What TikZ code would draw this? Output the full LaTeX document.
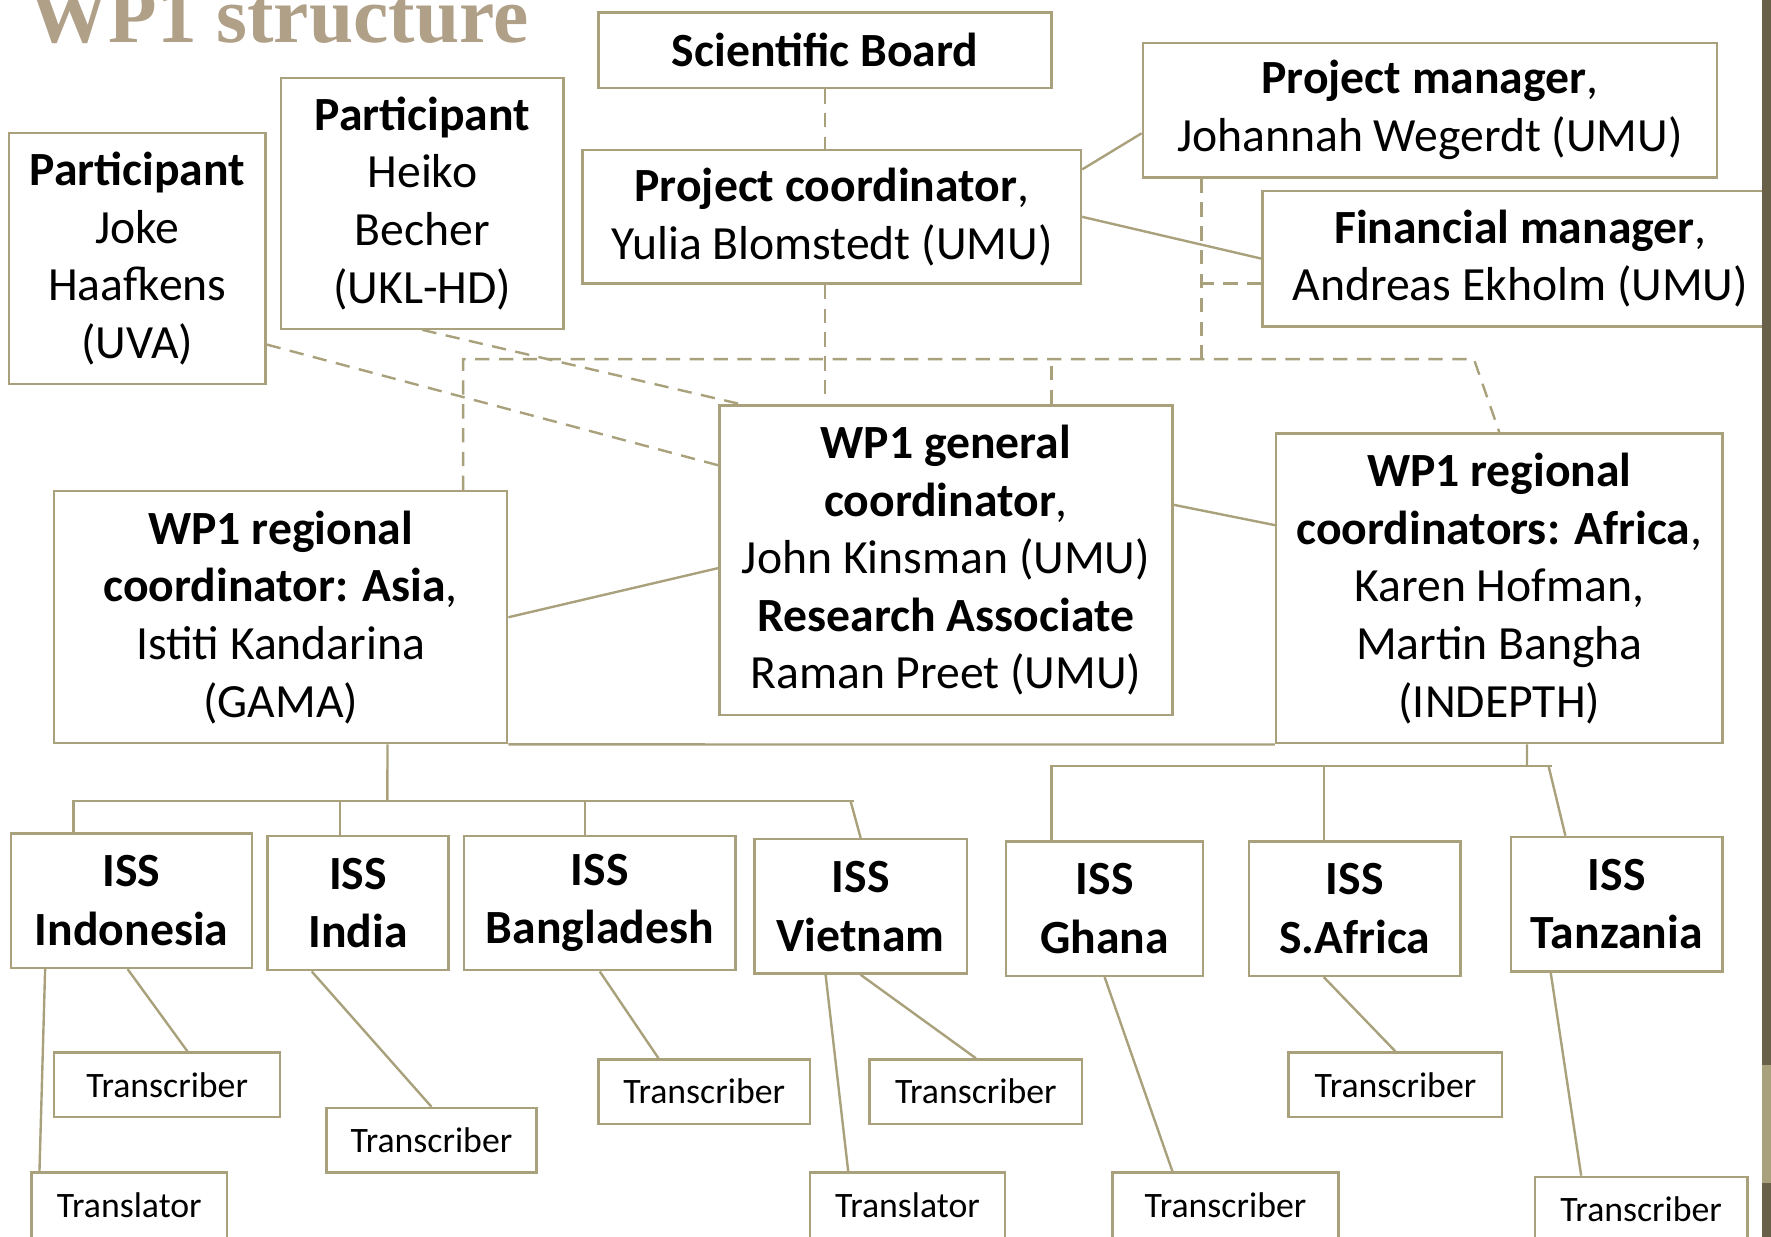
\documentclass[tikz,border=0pt]{standalone}
\usepackage{fontspec}
\setmainfont{Carlito}
\newfontfamily\titlefont{Liberation Serif}
\usepackage{tikz}
\definecolor{khaki}{RGB}{168,161,123}
\definecolor{titletan}{RGB}{175,160,135}
\definecolor{bardark}{RGB}{104,96,72}
\pgfdeclarehorizontalshading{slidebg}{100bp}{color(0bp)=(black!12); color(20bp)=(white); color(80bp)=(white); color(100bp)=(black!10)}
\def\slide{(0,0) rectangle (1568,1095)}

\begin{document}
\begin{tikzpicture}[x=0.01cm,y=-0.01cm,
	box/.style={draw=khaki,line width=0.6pt,inner sep=0pt,align=center,font=\fontsize{12}{14.5}\selectfont},
	iss/.style={box,font=\fontsize{12}{14.8}\selectfont\bfseries,minimum height=1.19cm},
	smallbox/.style={box,font=\fontsize{9}{11}\selectfont,minimum height=0.57cm},
	link/.style={draw=khaki,line width=0.6pt},
	dashlink/.style={link,dash pattern=on 3.6pt off 2.4pt}]
	\useasboundingbox \slide;
	\shade[shading=slidebg] \slide;

	\node[anchor=base west,inner sep=0pt,text=titletan,font=\titlefont\bfseries\fontsize{20}{23}\selectfont] (title) at (25,38) {WP1 structure};

	%management
	\node[box,minimum width=4.01cm,minimum height=0.67cm] (board) at (730.5,44.5) {\textbf{Scientific Board}};
	\node[box,minimum width=5.08cm,minimum height=1.19cm] (pman) at (1266,97.5) {\textbf{Project manager},\\Johannah Wegerdt (UMU)};
	\node[box,minimum width=4.41cm,minimum height=1.18cm] (pcoord) at (736.5,192) {\textbf{Project coordinator},\\Yulia Blomstedt (UMU)};
	\node[box,minimum width=4.56cm,minimum height=1.2cm] (fman) at (1346,229) {\textbf{Financial manager},\\Andreas Ekholm (UMU)};
	\node[box,minimum width=2.27cm,minimum height=2.22cm] (joke) at (121.5,229) {\textbf{Participant}\\Joke\\Haafkens\\(UVA)};
	\node[box,minimum width=2.5cm,minimum height=2.22cm] (heiko) at (374,180) {\textbf{Participant}\\Heiko\\Becher\\(UKL-HD)};

	%coordinators
	\node[box,minimum width=4.01cm,minimum height=2.74cm] (gen) at (837.5,496) {\textbf{WP1 general}\\\textbf{coordinator},\\John Kinsman (UMU)\\\textbf{Research Associate}\\Raman Preet (UMU)};
	\node[box,minimum width=4.01cm,minimum height=2.23cm] (asia) at (248.5,546.5) {\textbf{WP1 regional}\\\textbf{coordinator: Asia},\\Istiti Kandarina\\(GAMA)};
	\node[box,minimum width=3.95cm,minimum height=2.74cm] (africa) at (1327.5,521) {\textbf{WP1 regional}\\\textbf{coordinators: Africa},\\Karen Hofman,\\Martin Bangha\\(INDEPTH)};

	%study sites
	\node[iss,minimum width=2.13cm] (indo) at (116.5,797.5) {ISS\\Indonesia};
	\node[iss,minimum width=1.6cm] (india) at (317,799.5) {ISS\\India};
	\node[iss,minimum width=2.4cm] (bangla) at (531,799.5) {ISS\\Bangladesh};
	\node[iss,minimum width=1.88cm] (viet) at (762,802.5) {ISS\\Vietnam};
	\node[iss,minimum width=1.74cm] (ghana) at (978,804.5) {ISS\\Ghana};
	\node[iss,minimum width=1.87cm] (safr) at (1199.5,804.5) {ISS\\S.Africa};
	\node[iss,minimum width=1.87cm] (tanz) at (1431.5,800.5) {ISS\\Tanzania};

	\node[smallbox,minimum width=2cm] (indotr) at (148,960.5) {Transcriber};
	\node[smallbox,minimum width=1.73cm,minimum height=0.58cm] (indotl) at (114.5,1067) {Translator};
	\node[smallbox,minimum width=1.86cm] (indiatr) at (382,1009.5) {Transcriber};
	\node[smallbox,minimum width=1.87cm] (banglatr) at (623.5,966.5) {Transcriber};
	\node[smallbox,minimum width=1.88cm] (viettr) at (864,966.5) {Transcriber};
	\node[smallbox,minimum width=1.73cm,minimum height=0.58cm] (vietl) at (803.5,1067) {Translator};
	\node[smallbox,minimum width=2cm,minimum height=0.58cm] (ghanatr) at (1085,1067) {Transcriber};
	\node[smallbox,minimum width=1.89cm] (safrtr) at (1235.5,960.5) {Transcriber};
	\node[smallbox,minimum width=1.88cm,minimum height=0.58cm] (tanztr) at (1453,1071) {Transcriber};

	%dashed reporting lines
	\coordinate (busl) at (410,318);
	\coordinate (busr) at (1305,318);
	\coordinate (pmdrop) at ([xshift=.53cm]pman.south west);
	\coordinate (fmin) at ([yshift=-.22cm]fman.west);
	\draw[dashlink] (board.south) -- (board.south |- pcoord.north);
	\draw[dashlink] (board.south |- pcoord.south) -- (board.south |- gen.north);
	\draw[dashlink] (asia.north -| busl) -- (busl) -- (busr) -- (africa.north);
	\draw[dashlink] ([xshift=.935cm]gen.north) -- ([xshift=.935cm]gen.north |- busl);
	\draw[dashlink] (pmdrop) -- (pmdrop |- busl);
	\draw[dashlink] (fmin) -- (fmin -| pmdrop);
	\draw[dashlink] ([yshift=-.76cm]joke.east) -- ([yshift=.84cm]gen.west);
	\draw[dashlink] (heiko.south) -- ([xshift=.2cm]gen.north west);

	%solid lines
	\draw[link] ([yshift=.42cm]pcoord.east) -- ([yshift=-.205cm]pman.west);
	\draw[link] (pcoord.east) -- (fman.west);
	\draw[link] ([yshift=-.07cm]gen.west) -- (asia.east);
	\draw[link] ([yshift=.49cm]gen.east) -- ([yshift=.56cm]africa.west);
	\draw[link] (asia.south east) -- (africa.south west);

	%Asia branch
	\coordinate (asiabus) at (343,709);
	\draw[link] ([xshift=.945cm]asia.south) -- (asiabus);
	\draw[link] ([xshift=-.515cm]indo.north) |- (756,709);
	\draw[link] (753,709) -- (viet.north);
	\draw[link] ([xshift=-.16cm]india.north) -- ([xshift=-.16cm]india.north |- asiabus);
	\draw[link] ([xshift=-.13cm]bangla.north) -- ([xshift=-.13cm]bangla.north |- asiabus);

	%Africa branch
	\coordinate (afrbus) at (1352,678);
	\draw[link] ([xshift=.245cm]africa.south) -- (afrbus);
	\draw[link] ([xshift=-.47cm]ghana.north) |- (1374,678);
	\draw[link] ([xshift=-.275cm]safr.north) -- ([xshift=-.275cm]safr.north |- afrbus);
	\draw[link] (1371,678) -- ([xshift=-.455cm]tanz.north);

	%staff
	\draw[link] ([xshift=-.765cm]indo.south) -- ([xshift=-.795cm]indotl.north);
	\draw[link] ([xshift=-.035cm]indo.south) -- ([xshift=.18cm]indotr.north);
	\draw[link] ([xshift=-.41cm]india.south) -- (indiatr.north);
	\draw[link] (bangla.south) -- ([xshift=-.405cm]banglatr.north);
	\draw[link] ([xshift=-.31cm]viet.south) -- ([xshift=-.525cm]vietl.north);
	\draw[link] (viet.south) -- (viettr.north);
	\draw[link] (ghana.south) -- ([xshift=-.47cm]ghanatr.north);
	\draw[link] ([xshift=-.275cm]safr.south) -- (safrtr.north);
	\draw[link] ([xshift=-.585cm]tanz.south) -- ([xshift=-.53cm]tanztr.north);

	%slide edge
	\fill[bardark] (1560,0) rectangle (1568,943);
	\fill[khaki] (1560,943) rectangle (1568,1047);
	\fill[bardark] (1560,1047) rectangle (1568,1095);
\end{tikzpicture}
\end{document}
